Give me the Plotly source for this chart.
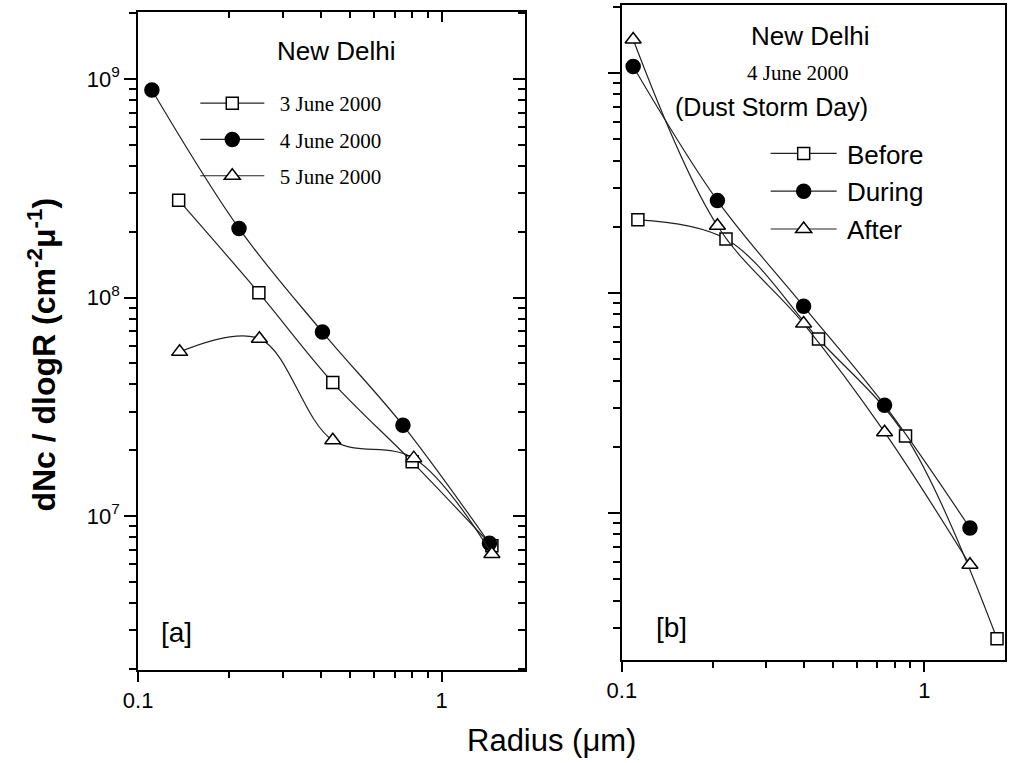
import plotly.graph_objects as go

# ---------------- data ----------------
# Panel [a]
r_3june = [0.136, 0.250, 0.438, 0.80, 1.465]
n_3june = [2.79e8, 1.05e8, 4.08e7, 1.77e7, 7.3e6]
r_4june = [0.111, 0.215, 0.405, 0.746, 1.438]
n_4june = [8.9e8, 2.07e8, 6.95e7, 2.6e7, 7.5e6]
r_5june = [0.137, 0.251, 0.438, 0.81, 1.465]
n_5june = [5.64e7, 6.48e7, 2.22e7, 1.84e7, 6.7e6]

# Panel [b]
r_before = [0.113, 0.221, 0.447, 0.867, 1.74]
n_before = [2.15e8, 1.76e8, 6.18e7, 2.24e7, 2.68e6]
r_during = [0.109, 0.207, 0.399, 0.739, 1.416]
n_during = [1.07e9, 2.63e8, 8.7e7, 3.09e7, 8.55e6]
r_after = [0.109, 0.207, 0.399, 0.739, 1.416]
n_after = [1.42e9, 2.02e8, 7.26e7, 2.33e7, 5.82e6]

# ticks
x_major = [0.1, 1]
x_major_labels = ["0.1", "1"]
y_major = [1e7, 1e8, 1e9]
y_major_labels = ["10<sup>7</sup>", "10<sup>8</sup>", "10<sup>9</sup>"]
x_minor = [m * 10.0 ** e for e in (-1, 0) for m in range(2, 10)]
y_minor = [m * 10.0 ** e for e in (6, 7, 8, 9) for m in range(2, 10)]

W, H = 1009, 763
SANS = "Liberation Sans, Arial, sans-serif"
SERIF = "Liberation Serif, Times New Roman, serif"
LINE = "#222222"


def px(x):
    return x / W


def py(y):
    return 1 - y / H


fig = go.Figure()


def add_series(x, y, name, symbol, fill, size, xa, ya, legend, group):
    fig.add_trace(go.Scatter(
        x=x, y=y, name=name, mode="lines+markers",
        line=dict(color=LINE, width=1.2, shape="spline", smoothing=1.0),
        marker=dict(symbol=symbol, size=size, color=fill,
                    line=dict(color="black", width=1.5)),
        xaxis=xa, yaxis=ya, legend=legend, legendgroup=group,
        hoverinfo="x+y",
    ))


GAP_A = "\u2002"
GAP_B = "\u2009"
add_series(r_3june, n_3june, GAP_A + "3 June 2000", "square", "white", 12, "x", "y", "legend", "a1")
add_series(r_4june, n_4june, GAP_A + "4 June 2000", "circle", "black", 14, "x", "y", "legend", "a2")
add_series(r_5june, n_5june, GAP_A + "5 June 2000", "triangle-up", "white", 14, "x", "y", "legend", "a3")

add_series(r_before, n_before, GAP_B + "Before", "square", "white", 12, "x2", "y2", "legend2", "b1")
add_series(r_during, n_during, GAP_B + "During", "circle", "black", 14, "x2", "y2", "legend2", "b2")
add_series(r_after, n_after, GAP_B + "After", "triangle-up", "white", 14, "x2", "y2", "legend2", "b3")

# invisible trace to anchor the mirrored (inside-tick) axes of panel [a]
fig.add_trace(go.Scatter(x=r_3june[:1], y=n_3june[:1], xaxis="x3", yaxis="y3",
                         mode="markers", marker=dict(opacity=0), showlegend=False,
                         hoverinfo="skip"))

tickfont = dict(family=SANS, size=22, color="black")

ax_common = dict(type="log", showgrid=False, zeroline=False, showline=True,
                 linecolor="black", linewidth=2, tickcolor="black", tickwidth=2)

xr_a = [-1, -1 + (518 - 125) / 308]
yr_a = [9 - (670 - 79) / 218.5, 9 + (79 - 12) / 218.5]
xr_b = [-1, -1 + (1005 - 616) / 307]
yr_b = [9 - (660 - 73) / 220, 9 + (73 - 5) / 220]

fig.update_layout(
    width=W, height=H, margin=dict(l=0, r=0, t=0, b=0),
    paper_bgcolor="white", plot_bgcolor="white",
    xaxis=dict(**ax_common, domain=[px(125), px(518)], range=xr_a, anchor="y",
               ticks="outside", ticklen=10, tickmode="array", tickvals=x_major,
               ticktext=x_major_labels, tickfont=tickfont,
               minor=dict(ticks="outside", ticklen=6, tickwidth=2, tickcolor="black",
                          tickmode="array", tickvals=x_minor, showgrid=False)),
    yaxis=dict(**ax_common, domain=[py(670), py(12)], range=yr_a, anchor="x",
               ticks="outside", ticklen=12, tickmode="array", tickvals=y_major,
               ticktext=y_major_labels, tickfont=tickfont,
               minor=dict(ticks="outside", ticklen=7, tickwidth=2, tickcolor="black",
                          tickmode="array", tickvals=y_minor, showgrid=False)),
    xaxis3=dict(**ax_common, range=xr_a, overlaying="x", anchor="y", side="top",
                ticks="inside", ticklen=10, tickmode="array", tickvals=x_major,
                showticklabels=False,
                minor=dict(ticks="inside", ticklen=6, tickwidth=2, tickcolor="black",
                           tickmode="array", tickvals=x_minor, showgrid=False)),
    yaxis3=dict(**ax_common, range=yr_a, overlaying="y", anchor="x", side="right",
                ticks="inside", ticklen=12, tickmode="array", tickvals=y_major,
                showticklabels=False,
                minor=dict(ticks="inside", ticklen=7, tickwidth=2, tickcolor="black",
                           tickmode="array", tickvals=y_minor, showgrid=False)),
    xaxis2=dict(**ax_common, domain=[px(616), px(1005)], range=xr_b, anchor="y2",
                mirror=True, ticks="outside", ticklen=10, tickmode="array",
                tickvals=x_major, ticktext=x_major_labels, tickfont=tickfont,
                minor=dict(ticks="outside", ticklen=6, tickwidth=2, tickcolor="black",
                           tickmode="array", tickvals=x_minor, showgrid=False)),
    yaxis2=dict(**ax_common, domain=[py(660), py(5)], range=yr_b, anchor="x2",
                mirror=True, ticks="outside", ticklen=12, tickmode="array",
                tickvals=y_major, showticklabels=False,
                minor=dict(ticks="outside", ticklen=7, tickwidth=2, tickcolor="black",
                           tickmode="array", tickvals=y_minor, showgrid=False)),
    legend=dict(x=px(183), y=py(83), xanchor="left", yanchor="top",
                bgcolor="rgba(0,0,0,0)", itemwidth=64, tracegroupgap=6,
                font=dict(family=SERIF, size=21, color="black")),
    legend2=dict(x=px(762), y=py(130), xanchor="left", yanchor="top",
                 bgcolor="rgba(0,0,0,0)", itemwidth=66, tracegroupgap=1,
                 font=dict(family=SANS, size=26, color="black")),
    showlegend=True,
)

annotations = [
    dict(text="New Delhi", x=px(326), y=py(51), font=dict(family=SANS, size=26)),
    dict(text="[a]", x=px(164), y=py(632), font=dict(family=SANS, size=28)),
    dict(text="New Delhi", x=px(807), y=py(36), font=dict(family=SANS, size=26)),
    dict(text="4 June 2000", x=px(795), y=py(73), font=dict(family=SERIF, size=21)),
    dict(text="(Dust Storm Day)", x=px(768), y=py(107), font=dict(family=SANS, size=25)),
    dict(text="[b]", x=px(666), y=py(627), font=dict(family=SANS, size=28)),
    dict(text="Radius (\u03bcm)", x=px(545), y=py(740), font=dict(family=SANS, size=31)),
    dict(text="<b>dNc / dlogR (cm<sup>-2</sup>\u03bc<sup>-1</sup>)</b>", x=px(27), y=py(355),
         textangle=-90, font=dict(family=SANS, size=32)),
]
for a in annotations:
    a.update(xref="paper", yref="paper", showarrow=False, xanchor="center", yanchor="middle")
    a["font"]["color"] = "black"
fig.update_layout(annotations=annotations)

fig.write_html("out.html", config={"displayModeBar": False},
               post_script="document.body.style.margin='0';document.body.style.overflow='hidden';")
